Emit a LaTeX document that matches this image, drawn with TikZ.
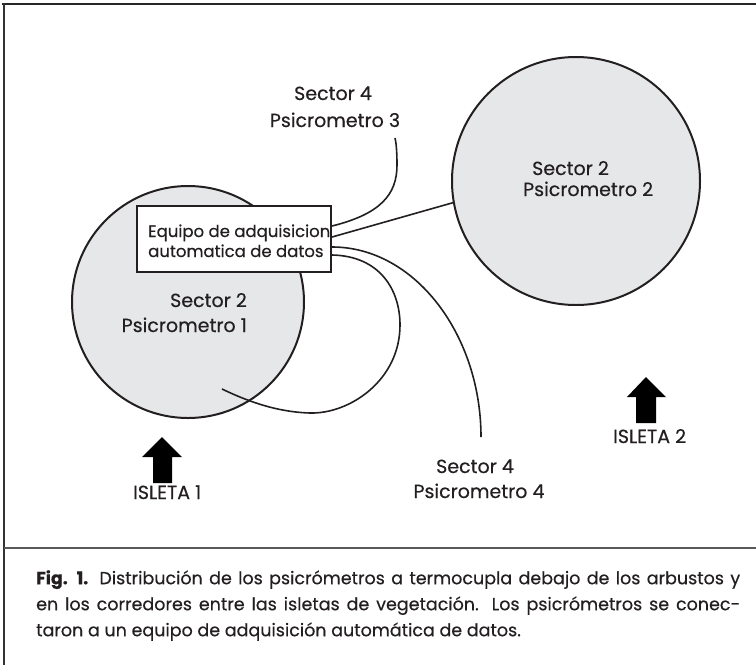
\documentclass[tikz,border=0pt]{standalone}
\usepackage{fontspec}
\setmainfont{Poppins}[FakeBold=0.4]
\definecolor{ink}{HTML}{231F20}
\definecolor{shrub}{HTML}{E6E7E9}
\begin{document}
\begin{tikzpicture}[x=1pt,y=-1pt,
  lbl/.style={inner sep=0pt, text=ink, font=\fontsize{19}{22}\selectfont},
  isltxt/.style={inner sep=0pt, text=ink, font=\fontsize{19}{22}\selectfont, anchor=base west},
  boxtxt/.style={inner sep=0pt, text=ink, font=\fontsize{16.5}{18}\selectfont, anchor=base west},
  wire/.style={draw=ink, line width=1.6pt},
  isl/.style={circle, draw=ink, line width=2pt, fill=shrub, inner sep=0pt},
  bigarrow/.style={fill=black},
  frameline/.style={line width=1.8pt},
]
\useasboundingbox (0,0) rectangle (756,665);
% frame
\draw[frameline, draw=black!85] (2,4) -- (756,4);
\draw[frameline, line width=1.5pt, draw=black!80] (4,3) -- (4,665);
\draw[frameline, draw=black!65] (4,548) -- (756,548);
% islands
\node[isl, minimum size=232pt] (c1) at (188,302) {};
\node[isl, minimum size=248pt] (c2) at (576,181) {};
% data logger
\node[draw=ink, line width=2.2pt, fill=white, minimum width=194pt, minimum height=66pt, inner sep=0pt] (box) at (234,239) {};
\node[boxtxt] (bt1) at (148,237) {Equipo de adquisicion};
\node[boxtxt] (bt2) at (148,257) {automatica de datos};
% end points
\coordinate (p3) at (395,138);
\coordinate (p4) at (481,437);
\coordinate (p1) at (222,389);
% connectors
\draw[wire] ([yshift=13pt]box.east) .. controls (380,214) and (397,195) .. (397,165) .. controls (397,150) and (396,142) .. (p3);
\draw[wire] ([yshift=2pt]box.east) -- (c2.190);
\draw[wire] ([yshift=-8pt]box.east) .. controls (415,247) and (481,335) .. (p4);
\draw[wire] ([yshift=-16pt]box.east) .. controls (380,256) and (400,290) .. (400,325) .. controls (400,380) and (350,414) .. (310,413) .. controls (275,412) and (245,400) .. (p1);
% labels
\node[lbl, anchor=base] (s3a) at (333,100) {Sector 4};
\node[lbl, anchor=base] (s3b) at (335,127) {Psicrometro 3};
\node[lbl, anchor=base east] (s1a) at (247,307) {Sector 2};
\node[lbl, anchor=base east] (s1b) at (247,332) {Psicrometro 1};
\node[lbl, anchor=base west] (s2a) at (532,175) {Sector 2};
\node[lbl, anchor=base west] (s2b) at (523,196) {Psicrometro 2};
\node[lbl, anchor=base] (s4a) at (475,473) {Sector 4};
\node[lbl, anchor=base] (s4b) at (479,498) {Psicrometro 4};
% arrows
\fill[bigarrow] (162,437) -- (182,457) -- (172,457) -- (172,483) -- (153,483) -- (153,457) -- (142,457) -- cycle;
\fill[bigarrow] (646,377) -- (666,397) -- (656,397) -- (656,423) -- (636,423) -- (636,397) -- (627,397) -- cycle;
\node[isltxt] (i1) at (133,499) {ISLETA 1};
\node[isltxt] (i2) at (613,443) {ISLETA 2};
% caption
\node[anchor=north west, text width=704pt, align=justify, inner sep=0pt, text=ink,
  font=\fontsize{17.5}{26}\selectfont] (cap) at (36,570)
  {\hyphenpenalty=10000 \textbf{Fig. 1.} Distribución de los psicrómetros a termocupla debajo de los arbustos y\linebreak
   en los corredores entre las isletas de vegetación. Los psicrómetros se conec-\linebreak
   taron a un equipo de adquisición automática de datos.};
\end{tikzpicture}
\end{document}
